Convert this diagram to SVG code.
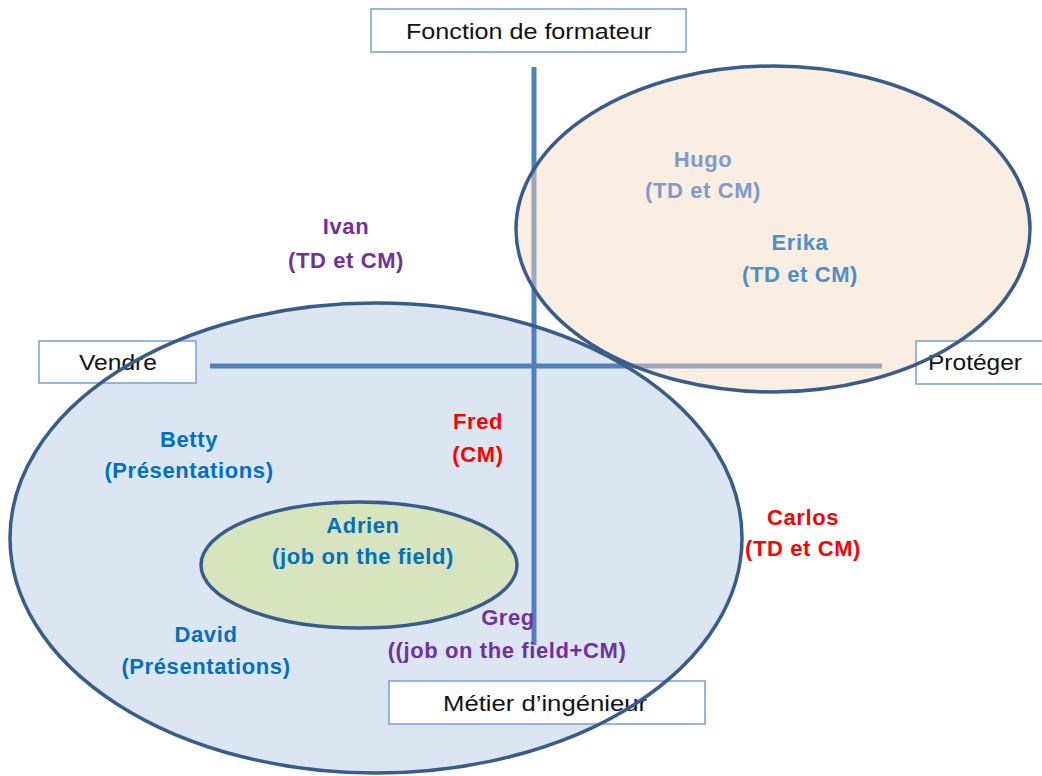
<svg xmlns="http://www.w3.org/2000/svg" width="1042" height="776" viewBox="0 0 1042 776">
<style>
.box{fill:#ffffff;stroke:#7fa5d6;stroke-width:1.6}
.bl{font-family:"Liberation Sans",Arial,sans-serif;font-size:22px;fill:#111111;text-anchor:middle}
.lb{font-family:"Liberation Sans",Arial,sans-serif;font-size:22px;font-weight:bold;letter-spacing:0.6px;text-anchor:middle}
.outl{fill:none;stroke:#385d8a;stroke-width:3.5}
.axis{stroke:#4f81bd;stroke-width:5;fill:none}
.blue{fill:#0070c0}.purple{fill:#7030a0}.red{fill:#ff0000}
</style>
<rect width="1042" height="776" fill="#ffffff"/>
<g id="ellipse-vendre">
<ellipse cx="376" cy="538" rx="366" ry="235" fill="#dce6f2"/>
</g>
<g id="ellipse-adrien">
<ellipse cx="359" cy="565" rx="158" ry="63" fill="#d7e4bd" stroke="#385d8a" stroke-width="3.5"/>
</g>
<g id="connectors">
<line class="axis" x1="534" y1="67" x2="534" y2="645"/>
<line class="axis" x1="210" y1="366" x2="882" y2="366"/>
</g>
<g id="ellipse-proteger">
<ellipse cx="773" cy="229" rx="257" ry="163" fill="#f4d7bc" fill-opacity="0.45"/>
</g>
<g id="box-fonction">
<rect class="box" x="371" y="9" width="315" height="43"/>
<text class="bl" x="529" y="39" textLength="246" lengthAdjust="spacingAndGlyphs">Fonction de formateur</text>
</g>
<g id="box-vendre">
<rect class="box" x="39" y="341" width="157" height="42"/>
<text class="bl" x="118" y="370" textLength="78" lengthAdjust="spacingAndGlyphs">Vendre</text>
</g>
<g id="box-proteger">
<rect class="box" x="916" y="341" width="130" height="43"/>
<text class="bl" x="975" y="370" textLength="94" lengthAdjust="spacingAndGlyphs">Protéger</text>
</g>
<g id="box-metier">
<rect class="box" x="389" y="681" width="316" height="43"/>
<text class="bl" x="545" y="711" textLength="204" lengthAdjust="spacingAndGlyphs">Métier d’ingénieur</text>
</g>
<g id="outlines">
<ellipse class="outl" cx="376" cy="538" rx="366" ry="235"/>
<ellipse class="outl" cx="773" cy="229" rx="257" ry="163"/>
</g>
<g id="hugo"><text class="lb" fill="#7f9acb" x="703" y="167">Hugo</text><text class="lb" fill="#7f9acb" x="703" y="198">(TD et CM)</text></g>
<g id="erika"><text class="lb" fill="#4d8fc9" x="800" y="250">Erika</text><text class="lb" fill="#4d8fc9" x="800" y="282">(TD et CM)</text></g>
<g id="ivan"><text class="lb purple" x="346" y="234">Ivan</text><text class="lb purple" x="346" y="268">(TD et CM)</text></g>
<g id="betty"><text class="lb blue" x="189" y="447">Betty</text><text class="lb blue" x="189" y="478">(Présentations)</text></g>
<g id="fred"><text class="lb red" x="478" y="429">Fred</text><text class="lb red" x="478" y="462">(CM)</text></g>
<g id="adrien"><text class="lb blue" x="363" y="533">Adrien</text><text class="lb blue" x="363" y="564">(job on the field)</text></g>
<g id="carlos"><text class="lb red" x="803" y="525">Carlos</text><text class="lb red" x="803" y="556">(TD et CM)</text></g>
<g id="david"><text class="lb blue" x="206" y="642">David</text><text class="lb blue" x="206" y="674">(Présentations)</text></g>
<g id="greg"><text class="lb purple" x="508" y="625">Greg</text><text class="lb purple" x="507" y="658">((job on the field+CM)</text></g>
</svg>
